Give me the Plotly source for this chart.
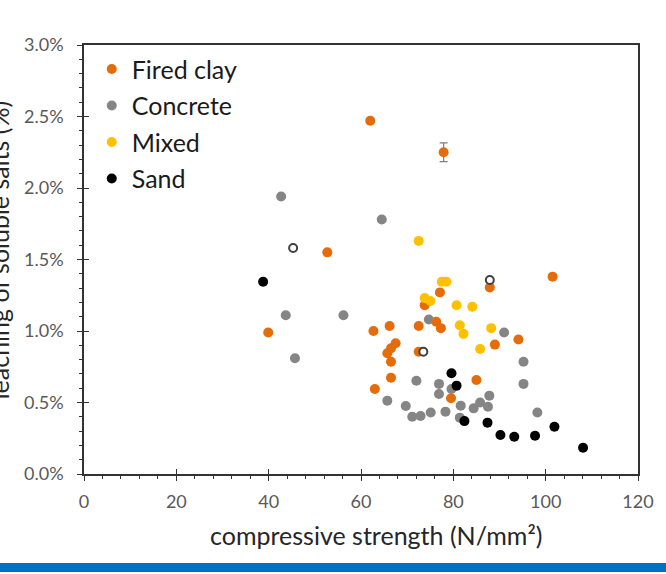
import plotly.graph_objects as go

# ---------------- data ----------------
fired_x = [62.0, 52.7, 39.9, 101.5, 77.1, 87.9, 73.8, 76.3, 77.3, 72.5, 66.2, 62.7,
           94.1, 89.0, 67.5, 66.5, 65.7, 66.5, 72.5, 66.5, 63.0, 79.5, 85.0]
fired_y = [2.47, 1.55, 0.99, 1.38, 1.27, 1.305, 1.18, 1.065, 1.02, 1.035, 1.035, 1.00,
           0.94, 0.905, 0.914, 0.879, 0.844, 0.785, 0.855, 0.673, 0.594, 0.53, 0.657]
fired_err_x = [77.9]
fired_err_y = [2.25]
fired_err = [0.066]

concrete_x = [42.7, 64.5, 43.7, 56.2, 45.7, 74.7, 91.0, 72.0, 65.7, 69.7, 71.1, 72.9, 75.1,
              78.3, 76.9, 76.9, 79.6, 81.6, 81.4, 84.4, 85.8, 87.5, 87.8, 95.2, 95.2, 98.2]
concrete_y = [1.94, 1.78, 1.11, 1.11, 0.81, 1.08, 0.99, 0.652, 0.513, 0.475, 0.40, 0.406, 0.43,
              0.436, 0.63, 0.56, 0.594, 0.478, 0.394, 0.459, 0.50, 0.47, 0.548, 0.785, 0.63, 0.43]

mixed_x = [72.5, 77.5, 78.5, 73.8, 75.0, 80.7, 84.1, 81.4, 82.2, 88.2, 85.8]
mixed_y = [1.63, 1.345, 1.345, 1.23, 1.21, 1.18, 1.17, 1.04, 0.98, 1.02, 0.874]

sand_x = [38.8, 79.6, 80.7, 82.4, 87.4, 90.2, 93.2, 97.7, 101.9, 108.1]
sand_y = [1.345, 0.704, 0.618, 0.37, 0.359, 0.273, 0.261, 0.268, 0.331, 0.184]

hollow_x = [45.3, 87.9, 73.5]
hollow_y = [1.58, 1.357, 0.855]

x_ticks = [0, 20, 40, 60, 80, 100, 120]
y_ticks = [0.0, 0.5, 1.0, 1.5, 2.0, 2.5, 3.0]
y_ticktext = ["0.0%", "0.5%", "1.0%", "1.5%", "2.0%", "2.5%", "3.0%"]

ORANGE = "#E46C0A"
GRAY = "#858585"
YELLOW = "#FFC000"
BLACK = "#000000"
FONT = "Lato"
MS = 10

fig = go.Figure()

fig.add_trace(go.Scatter(x=concrete_x, y=concrete_y, mode="markers", name="Concrete",
                         legendgroup="c", legendrank=2,
                         marker=dict(color=GRAY, size=MS)))
fig.add_trace(go.Scatter(x=fired_x, y=fired_y, mode="markers", name="Fired clay",
                         legendgroup="f", legendrank=1,
                         marker=dict(color=ORANGE, size=MS)))
fig.add_trace(go.Scatter(x=fired_err_x, y=fired_err_y, mode="markers", name="Fired clay",
                         legendgroup="f", showlegend=False,
                         marker=dict(color=ORANGE, size=MS),
                         error_y=dict(type="data", array=fired_err, color="#7F7F7F",
                                      thickness=1.2, width=4)))
fig.add_trace(go.Scatter(x=mixed_x, y=mixed_y, mode="markers", name="Mixed",
                         legendgroup="m", legendrank=3,
                         marker=dict(color=YELLOW, size=MS)))
fig.add_trace(go.Scatter(x=sand_x, y=sand_y, mode="markers", name="Sand",
                         legendgroup="s", legendrank=4,
                         marker=dict(color=BLACK, size=MS)))
fig.add_trace(go.Scatter(x=hollow_x, y=hollow_y, mode="markers", showlegend=False,
                         marker=dict(color="white", size=8,
                                     line=dict(color="#404040", width=2))))
# helper trace for the inner half of the crossing major ticks
fig.add_trace(go.Scatter(x=[None], y=[None], xaxis="x2", yaxis="y2",
                         showlegend=False, hoverinfo="skip"))

axis_line = "#333333"
tick_font = dict(family=FONT, size=18, color="#595959")

fig.update_layout(
    width=666, height=574,
    margin=dict(l=83.5, r=16.5, t=45, b=100),
    paper_bgcolor="white", plot_bgcolor="white",
    font=dict(family=FONT),
    showlegend=True,
    legend=dict(x=0.014, y=0.997, xanchor="left", yanchor="top",
                font=dict(family=FONT, size=25, color="#1a1a1a"),
                bgcolor="rgba(0,0,0,0)", tracegroupgap=1,
                traceorder="grouped"),
    xaxis=dict(range=[0, 120], tickvals=x_ticks, showgrid=False, zeroline=False,
               showline=True, linecolor=axis_line, linewidth=1.6, mirror=True,
               ticks="outside", ticklen=5, tickwidth=1.3, tickcolor=axis_line,
               minor=dict(dtick=4, ticks="outside", ticklen=3, tickwidth=1.3,
                          tickcolor=axis_line, showgrid=False),
               tickfont=tick_font, ticklabelstandoff=6),
    yaxis=dict(range=[0, 3.0], tickvals=y_ticks, ticktext=y_ticktext,
               showgrid=False, zeroline=False,
               showline=True, linecolor=axis_line, linewidth=1.6, mirror=True,
               ticks="outside", ticklen=5, tickwidth=1.3, tickcolor=axis_line,
               minor=dict(dtick=0.1, ticks="outside", ticklen=3, tickwidth=1.3,
                          tickcolor=axis_line, showgrid=False),
               tickfont=tick_font, ticklabelstandoff=10),
    xaxis2=dict(range=[0, 120], overlaying="x", tickvals=x_ticks, showticklabels=False,
                showgrid=False, zeroline=False, showline=False,
                ticks="inside", ticklen=5, tickwidth=1.3, tickcolor=axis_line),
    yaxis2=dict(range=[0, 3.0], overlaying="y", tickvals=y_ticks, showticklabels=False,
                showgrid=False, zeroline=False, showline=False,
                ticks="inside", ticklen=5, tickwidth=1.3, tickcolor=axis_line),
)

# x-axis title (sits slightly right of centre in the reference)
fig.add_annotation(text="compressive strength (N/mm²)",
                   xref="paper", yref="paper", x=0.527, y=-0.142,
                   xanchor="center", yanchor="middle", showarrow=False,
                   font=dict(family=FONT, size=25, color="#262626"))

# cut-off y-axis title, as in the reference
fig.add_annotation(text="leaching of soluble salts (%)", textangle=-90,
                   xref="paper", yref="paper", x=-0.153, y=0.522,
                   xanchor="center", yanchor="middle", showarrow=False,
                   font=dict(family=FONT, size=25, color="#262626"))

# blue band at the bottom of the picture
fig.add_shape(type="rect", xref="paper", yref="paper",
              x0=-0.2, x1=1.1, y0=-0.2075, y1=-0.2285,
              fillcolor="#0070C0", line=dict(width=0), layer="above")

fig.write_html("out.html")
